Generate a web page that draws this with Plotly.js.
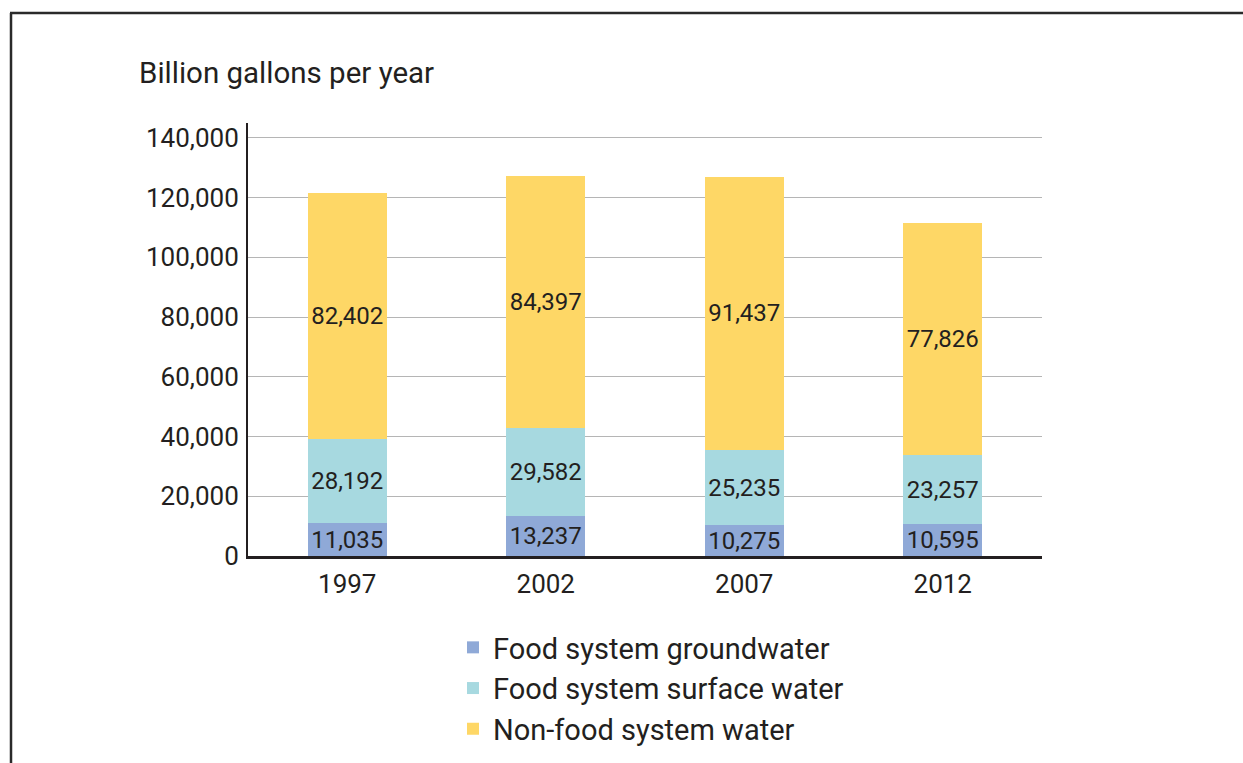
<!DOCTYPE html>
<html>
<head>
<meta charset="utf-8">
<script src="https://cdn.plot.ly/plotly-3.0.1.min.js"></script>
<style>
  html, body { margin: 0; padding: 0; background: #fff; }
  #chart { width: 1243px; height: 763px; }
</style>
</head>
<body>
<div id="chart"></div>
<script>
// Water use by year, billion gallons per year
const years = ['1997', '2002', '2007', '2012'];
const groundwater = [11035, 13237, 10275, 10595];
const surfaceWater = [28192, 29582, 25235, 23257];
const nonFoodWater = [82402, 84397, 91437, 77826];

const seriesNames = ['Food system groundwater', 'Food system surface water', 'Non-food system water'];
const seriesColors = ['#8fa9d7', '#a7d9e0', '#fed766'];
const yTicks = [0, 20000, 40000, 60000, 80000, 100000, 120000, 140000];

const ink = '#231f20';
const fmt = v => v.toLocaleString('en-US');

function barTrace(values, idx) {
  return {
    type: 'bar',
    name: seriesNames[idx],
    legendgroup: 'g' + idx,
    x: years,
    y: values,
    text: values.map(fmt),
    textposition: 'inside',
    insidetextanchor: 'middle',
    textangle: 0,
    constraintext: 'none',
    textfont: { family: 'Roboto, sans-serif', size: 24, color: ink },
    marker: { color: seriesColors[idx], line: { width: 0 } },
    hoverinfo: 'x+y+name'
  };
}

const data = [
  barTrace(groundwater, 0),
  barTrace(surfaceWater, 1),
  barTrace(nonFoodWater, 2)
];

// Plot area: 248..1042 px horizontally, 123..556 px vertically
const L = 248, R = 1042, T = 123, B = 556, W = 1243, H = 763;
const px = x => (x - L) / (R - L);
const py = y => (B - y) / (B - T);

const layout = {
  width: W,
  height: H,
  paper_bgcolor: '#ffffff',
  plot_bgcolor: '#ffffff',
  margin: { l: L, r: W - R, t: T, b: H - B, pad: 0, autoexpand: false },
  barmode: 'stack',
  bargap: 0.6,
  font: { family: 'Roboto, sans-serif', color: ink, size: 26 },
  title: {
    text: 'Billion gallons per year',
    font: { family: 'Roboto, sans-serif', size: 29.5, color: ink },
    xref: 'container', yref: 'container',
    x: 139 / W, xanchor: 'left',
    y: 1 - 73 / H, yanchor: 'middle'
  },
  xaxis: {
    type: 'category',
    range: [-0.5, 3.5],
    showline: true,
    linecolor: ink,
    linewidth: 2.5,
    showgrid: false,
    ticks: '',
    tickangle: 0,
    ticklabelstandoff: 3,
    tickfont: { family: 'Roboto, sans-serif', size: 26, color: ink },
    fixedrange: true
  },
  yaxis: {
    range: [0, 145000],
    tickvals: yTicks,
    ticktext: yTicks.map(fmt),
    showline: true,
    linecolor: ink,
    linewidth: 2,
    showgrid: true,
    gridcolor: '#b5b5b5',
    gridwidth: 1.2,
    zeroline: false,
    ticks: '',
    ticklabelstandoff: 2,
    tickfont: { family: 'Roboto, sans-serif', size: 26, color: ink },
    fixedrange: true
  },
  showlegend: true,
  legend: {
    orientation: 'v',
    traceorder: 'grouped',
    tracegroupgap: 0,
    xref: 'container', yref: 'container',
    x: 453 / W, xanchor: 'left',
    y: 1 - 622 / H, yanchor: 'top',
    font: { family: 'Roboto, sans-serif', size: 29, color: ink },
    bgcolor: 'rgba(0,0,0,0)',
    itemclick: false,
    itemdoubleclick: false
  },
  shapes: [
    // frame: top and left rules
    {
      type: 'line', xref: 'paper', yref: 'paper',
      x0: px(10), x1: px(W + 5), y0: py(13), y1: py(13),
      line: { color: '#2a2a2a', width: 2.5 }
    },
    {
      type: 'line', xref: 'paper', yref: 'paper',
      x0: px(11), x1: px(11), y0: py(13), y1: py(H + 5),
      line: { color: '#2a2a2a', width: 2.5 }
    }
  ]
};

Plotly.newPlot('chart', data, layout, { displayModeBar: false, staticPlot: false });
</script>
</body>
</html>
